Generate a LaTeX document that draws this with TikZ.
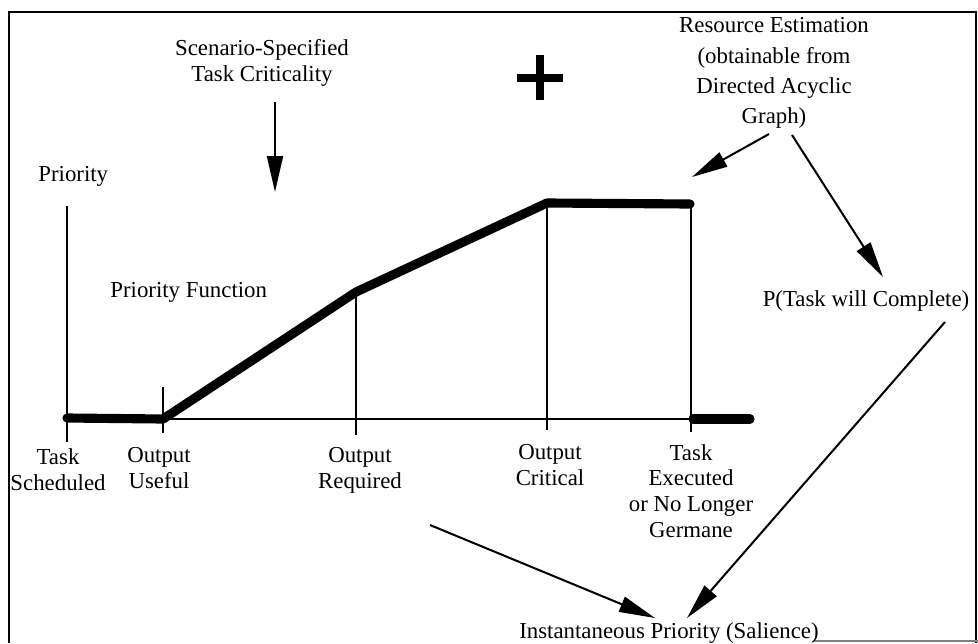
\documentclass[tikz,border=0pt]{standalone}
\usepackage{fontspec}
\setmainfont{Liberation Serif}
\usetikzlibrary{arrows.meta}

\tikzset{
  lbl/.style={font=\fontsize{13}{14.7}\selectfont,align=center,inner sep=0pt},
  thinline/.style={line width=1.15pt},
  fnline/.style={line width=5.2pt,line cap=round,line join=round},
  arr/.style={line width=1.15pt,-{Triangle[length=0.72cm,width=0.32cm]}}
}

\begin{document}
\begin{tikzpicture}[x=0.02cm,y=-0.02cm]
                \useasboundingbox (0,0) rectangle (978,643);
                \draw[line width=1.3pt] (9,643) -- (9,12) -- (976,12) -- (976,643);
                \draw[gray,line width=0.8pt] (813,641) -- (978,641);
                \draw[thinline] (67,206) -- (67,442);
                \draw[thinline] (67,419) -- (691,419);
                \foreach \x/\t/\b in {163/387/433,356/292/435,547/203/430,691/204/432}{
                    \draw[thinline] (\x,\t) -- (\x,\b);
                }
                \draw[fnline] (67,418) -- (163,419) -- (356,292) -- (547,203) -- (690,204);
                \draw[fnline] (693,419) -- (750,419);
                \draw[line width=4pt] (540,55) -- (540,100);
                \draw[line width=4pt] (517,78) -- (563,78);
                \node[lbl,anchor=west] (prio) at (38,176) {Priority};
                \node[lbl,anchor=west] (pfunc) at (110,292) {Priority Function};
                \node[lbl] (tsched) at (58,470) {Task\\Scheduled};
                \node[lbl] (ouseful) at (159,468) {Output\\Useful};
                \node[lbl] (oreq) at (360,470) {Output\\Required};
                \node[lbl] (ocrit) at (550,465) {Output\\Critical};
                \node[lbl] (texec) at (691,491) {Task\\Executed\\or No Longer\\Germane};
                \node[lbl] (crit) at (262,63) {Scenario-Specified\\Task Criticality};
                \node[lbl,font=\fontsize{13}{17.2}\selectfont] (res) at (774,73) {Resource Estimation\\(obtainable from\\Directed Acyclic\\Graph)};
                \node[lbl] (pcomp) at (866,301) {P(Task will Complete)};
                \node[lbl] (inst) at (669,633) {Instantaneous Priority (Salience)};
                \coordinate (critA) at (275,102);
                \coordinate (critB) at (275,192);
                \coordinate (resA) at (769,134);
                \coordinate (resB) at (692,177);
                \coordinate (resC) at (792,135);
                \coordinate (pcompA) at (883,277);
                \coordinate (pcompB) at (945,322);
                \coordinate (instA) at (687,618);
                \coordinate (curveA) at (430,525);
                \coordinate (instB) at (655,618);
                \draw[arr] (critA) -- (critB);
                \draw[arr] (resA) -- (resB);
                \draw[arr] (resC) -- (pcompA);
                \draw[arr] (pcompB) -- (instA);
                \draw[arr] (curveA) -- (instB);
            \end{tikzpicture}
\end{document}
